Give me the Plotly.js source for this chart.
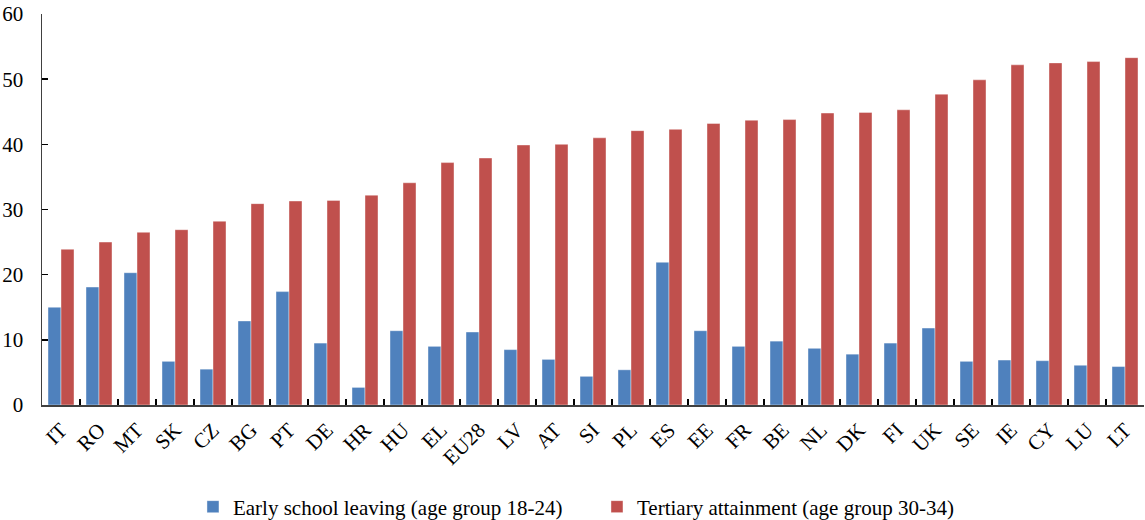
<!DOCTYPE html>
<html>
<head>
<meta charset="utf-8">
<script src="https://cdn.plot.ly/plotly-3.0.1.min.js"></script>
<style>html,body{margin:0;padding:0;background:#fff;}#chart{width:1145px;height:520px;}</style>
</head>
<body>
<div id="chart"></div>
<script>
const countries = ["IT","RO","MT","SK","CZ","BG","PT","DE","HR","HU","EL","EU28","LV","AT","SI","PL","ES","EE","FR","BE","NL","DK","FI","UK","SE","IE","CY","LU","LT"];
const earlySchoolLeaving = [15.0,18.1,20.3,6.7,5.5,12.9,17.4,9.5,2.7,11.4,9.0,11.2,8.5,7.0,4.4,5.4,21.9,11.4,9.0,9.8,8.7,7.8,9.5,11.8,6.7,6.9,6.8,6.1,5.9];
const tertiaryAttainment = [23.9,25.0,26.5,26.9,28.2,30.9,31.3,31.4,32.2,34.1,37.2,37.9,39.9,40.0,41.0,42.1,42.3,43.2,43.7,43.8,44.8,44.9,45.3,47.7,49.9,52.2,52.5,52.7,53.3];
const seriesNames = ["Early school leaving (age group 18-24)", "Tertiary attainment (age group 30-34)"];
const yTicks = [0,10,20,30,40,50,60];

const font = {family: "'Liberation Serif', 'Times New Roman', serif", size: 21, color: "#000"};

const traces = [
  {type: "bar", name: seriesNames[0], x: countries, y: earlySchoolLeaving,
   marker: {color: "#4F81BD", line: {color: "rgba(255,255,255,0.5)", width: 0.8}}},
  {type: "bar", name: seriesNames[1], x: countries, y: tertiaryAttainment,
   marker: {color: "#C0504D", line: {color: "rgba(255,255,255,0.5)", width: 0.8}}}
];

const layout = {
  width: 1145, height: 520,
  margin: {l: 42, r: 1, t: 14, b: 115, pad: 0},
  paper_bgcolor: "#fff", plot_bgcolor: "#fff",
  font: font,
  barmode: "group", bargap: 0.316, bargroupgap: 0,
  showlegend: true,
  legend: {orientation: "h", x: 0.137, xanchor: "left", xref: "paper",
           y: 0.025, yanchor: "middle", yref: "container",
           font: font, entrywidth: 359, entrywidthmode: "pixels", traceorder: "normal"},
  xaxis: {type: "category", tickangle: -45, showgrid: false, zeroline: false,
          showline: true, linecolor: "#404040", linewidth: 1.5,
          ticks: "inside", tickson: "boundaries", ticklen: 6, tickcolor: "#000", tickwidth: 1.5,
          ticklabelstandoff: 3, tickfont: font, automargin: false},
  yaxis: {range: [0, 60], tickvals: yTicks, showgrid: false, zeroline: false,
          showline: true, linecolor: "#404040", linewidth: 1.5,
          ticks: "inside", ticklen: 6, tickcolor: "#000", tickwidth: 1.5,
          ticklabelstandoff: 13, tickfont: font, automargin: false}
};

Plotly.newPlot("chart", traces, layout, {displayModeBar: false, staticPlot: true});
</script>
</body>
</html>
